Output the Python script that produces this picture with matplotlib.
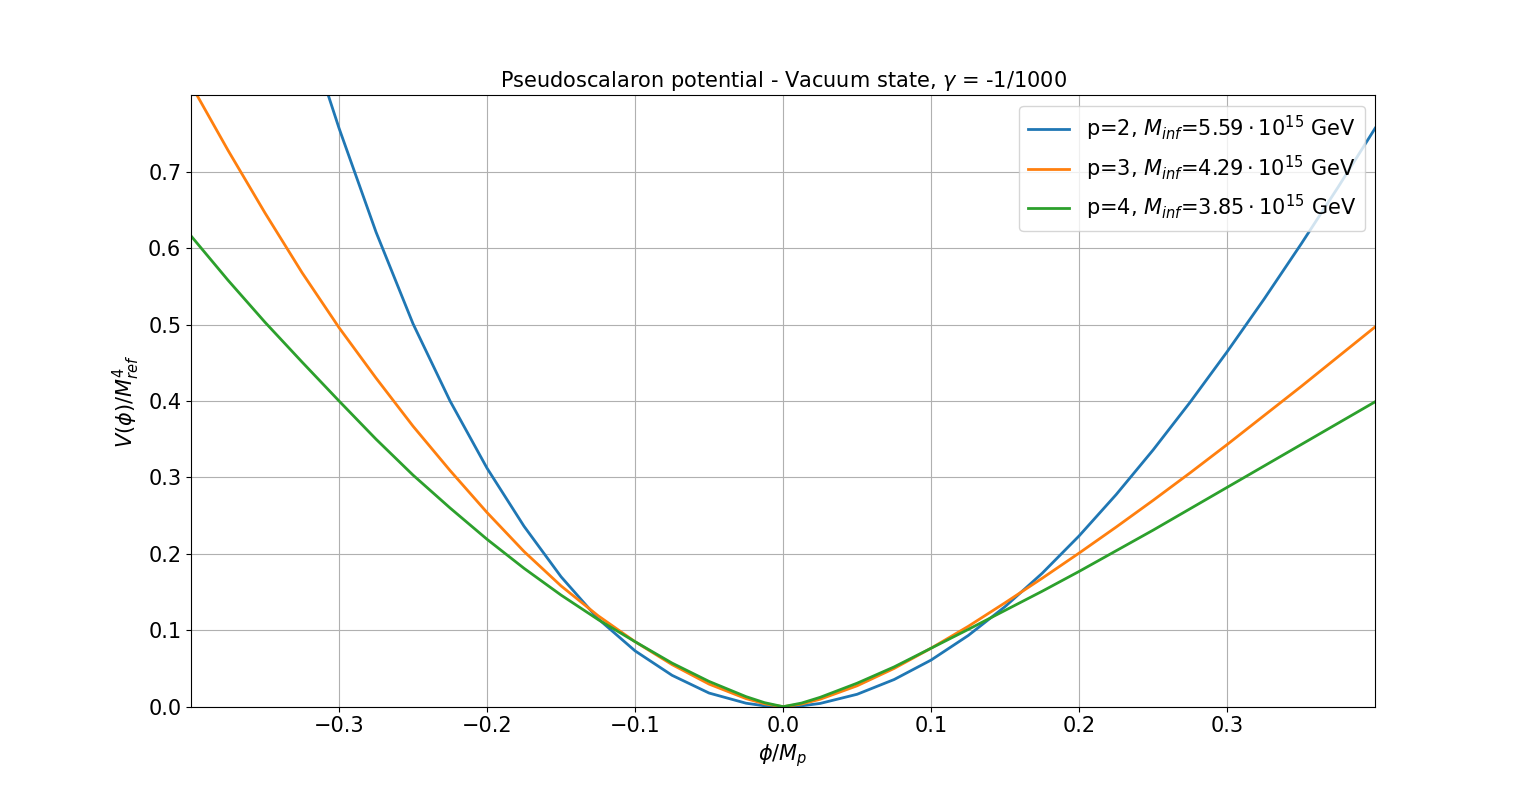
import numpy as np
import matplotlib.pyplot as plt

# valores (phi/Mp, V/Mref^4)
phi_p2 = [-0.325, -0.3, -0.275, -0.25, -0.225, -0.2, -0.175, -0.15, -0.125, -0.1,
          -0.075, -0.05, -0.025, -0.0125, 0.0, 0.0125, 0.025, 0.05, 0.075, 0.1,
          0.125, 0.15, 0.175, 0.2, 0.225, 0.25, 0.275, 0.3, 0.325, 0.35, 0.375, 0.4]
V_p2 = [0.905, 0.757, 0.621, 0.501, 0.400, 0.312, 0.236, 0.170, 0.115, 0.073,
        0.041, 0.0178, 0.0045, 0.0011, 0.0, 0.0011, 0.0042, 0.0162, 0.0355, 0.061,
        0.093, 0.131, 0.1745, 0.2235, 0.2775, 0.336, 0.3985, 0.4645, 0.5335, 0.6055, 0.680, 0.757]

phi_p34 = [-0.4, -0.375, -0.35, -0.325, -0.3, -0.275, -0.25, -0.225, -0.2, -0.175,
           -0.15, -0.125, -0.1, -0.075, -0.05, -0.025, -0.0125, 0.0, 0.0125, 0.025,
           0.05, 0.075, 0.1, 0.125, 0.15, 0.175, 0.2, 0.225, 0.25, 0.275, 0.3,
           0.325, 0.35, 0.375, 0.4]
V_p3 = [0.814, 0.728, 0.646, 0.568, 0.496, 0.430, 0.367, 0.309, 0.254, 0.203,
        0.158, 0.119, 0.085, 0.055, 0.0295, 0.0105, 0.0037, 0.0, 0.0034, 0.0097,
        0.0273, 0.050, 0.0765, 0.105, 0.136, 0.168, 0.201, 0.235, 0.270, 0.306, 0.343,
        0.381, 0.419, 0.458, 0.497]
V_p4 = [0.616, 0.558, 0.503, 0.451, 0.400, 0.350, 0.303, 0.260, 0.219, 0.181,
        0.146, 0.114, 0.085, 0.057, 0.033, 0.0131, 0.0052, 0.0, 0.0047, 0.0122,
        0.0307, 0.052, 0.0765, 0.101, 0.126, 0.151, 0.177, 0.204, 0.231, 0.259, 0.287,
        0.315, 0.343, 0.371, 0.399]

etiquetas = [r'p=2, $M_{inf}$=$5.59\cdot10^{15}$ GeV',
             r'p=3, $M_{inf}$=$4.29\cdot10^{15}$ GeV',
             r'p=4, $M_{inf}$=$3.85\cdot10^{15}$ GeV']

fig = plt.figure(figsize=(15.28, 7.94), dpi=100)
ax = fig.add_subplot(111)

ax.plot(phi_p2, V_p2, lw=2, label=etiquetas[0])
ax.plot(phi_p34, V_p3, lw=2, label=etiquetas[1])
ax.plot(phi_p34, V_p4, lw=2, label=etiquetas[2])

ax.set_xlim(-0.4, 0.4)
ax.set_ylim(0, 0.8)
ax.set_xticks([-0.3, -0.2, -0.1, 0.0, 0.1, 0.2, 0.3])
ax.set_yticks(np.arange(0, 0.71, 0.1))
ax.tick_params(labelsize=15)

ax.set_title(r'Pseudoscalaron potential - Vacuum state, $\gamma$ = -1/1000', fontsize=15)
ax.set_xlabel(r'$\phi/M_p$', fontsize=15)
ax.set_ylabel(r'$V(\phi)/M_{ref}^4$', fontsize=15)
ax.grid(True)
ax.legend(loc='upper right', fontsize=15)

plt.savefig('out.png', dpi=100)
